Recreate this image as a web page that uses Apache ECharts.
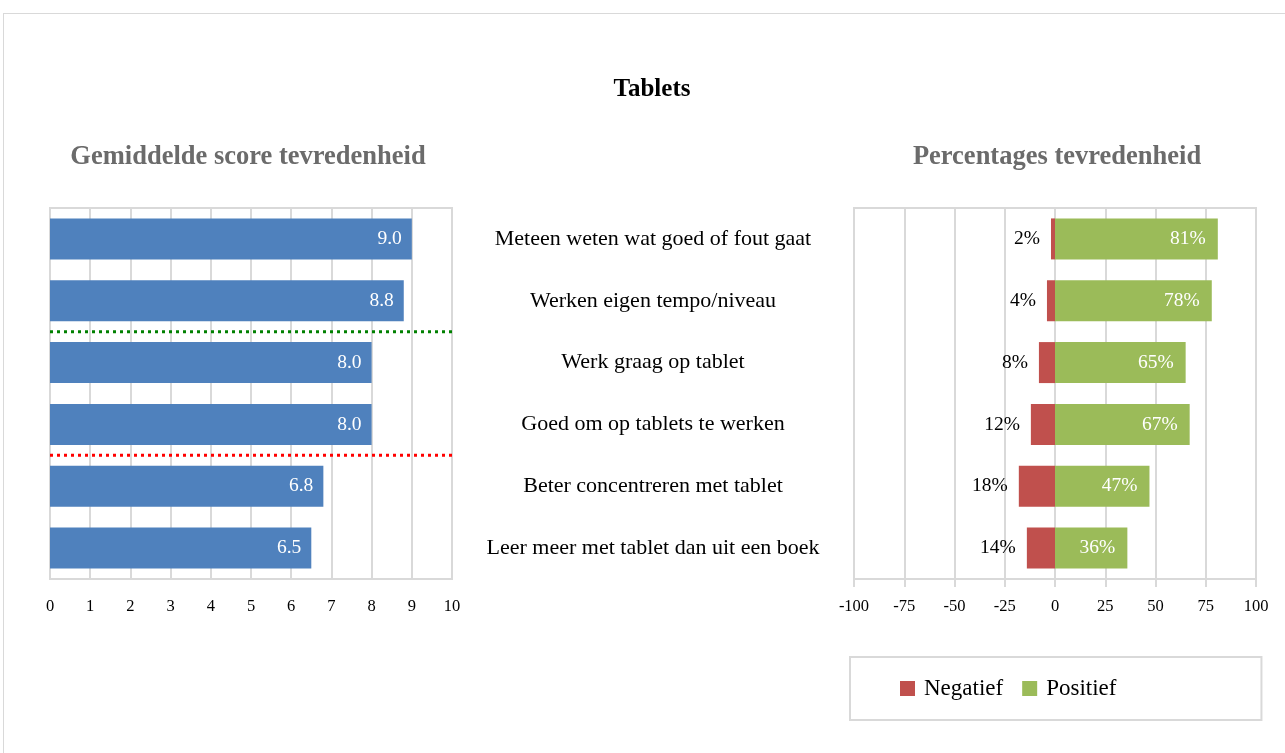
<!DOCTYPE html>
<html>
<head>
<meta charset="utf-8">
<script src="https://cdn.jsdelivr.net/npm/echarts@6/dist/echarts.min.js"></script>
<style>
  html, body { margin: 0; padding: 0; background: #fff; }
  #main { width: 1285px; height: 753px; }
  .frame { position: absolute; left: 3px; top: 13px; width: 1300px; height: 760px;
           border: 1px solid #d9d9d9; pointer-events: none; }
</style>
</head>
<body>
<div class="frame"></div>
<div id="main"></div>
<script>
// data
const categories = ['Meteen weten wat goed of fout gaat', 'Werken eigen tempo/niveau', 'Werk graag op tablet',
                    'Goed om op tablets te werken', 'Beter concentreren met tablet', 'Leer meer met tablet dan uit een boek'];
const scores = [9.0, 8.8, 8.0, 8.0, 6.8, 6.5];
const negatief = [2, 4, 8, 12, 18, 14];
const positief = [81, 78, 65, 67, 47, 36];
// dotted separator lines sit between categories (0 = top edge, 6 = bottom edge)
const greenLine = [2];
const redLine = [4];

const font = 'Liberation Serif';
const gridColor = '#d9d9d9';

let myChart = echarts.init(document.getElementById('main'));

let option = {
    animation: false,
    textStyle: { fontFamily: font },
    title: [
        { text: 'Tablets', left: 647, textAlign: 'center', top: 72,
          textStyle: { fontFamily: font, fontSize: 25, fontWeight: 'bold', color: '#000' } },
        { text: 'Gemiddelde score tevredenheid', left: 243, textAlign: 'center', top: 139,
          textStyle: { fontFamily: font, fontSize: 26.5, fontWeight: 'bold', color: '#6b6b6b' } },
        { text: 'Percentages tevredenheid', left: 1052, textAlign: 'center', top: 139,
          textStyle: { fontFamily: font, fontSize: 26.5, fontWeight: 'bold', color: '#6b6b6b' } }
    ],
    legend: {
        data: ['Negatief', 'Positief'],
        left: 850, top: 657,
        padding: [20, 145, 20, 50],
        borderColor: gridColor, borderWidth: 2,
        itemWidth: 15, itemHeight: 15, itemGap: 19,
        icon: 'rect',
        textStyle: { fontFamily: font, fontSize: 23, color: '#000', padding: [0, 0, 0, 4] }
    },
    grid: [
        { left: 50, top: 208, width: 402, height: 371, show: true, borderColor: gridColor, borderWidth: 2 },
        { left: 854, top: 208, width: 402, height: 371, show: true, borderColor: gridColor, borderWidth: 2 }
    ],
    xAxis: [
        { gridIndex: 0, type: 'value', min: 0, max: 10, interval: 1,
          axisLine: { show: true, lineStyle: { color: gridColor, width: 2 } },
          axisTick: { show: true, length: 8, lineStyle: { color: gridColor, width: 2 } },
          axisLabel: { margin: 19, fontFamily: font, fontSize: 16.5, color: '#000' },
          splitLine: { lineStyle: { color: gridColor, width: 2 } } },
        { gridIndex: 1, type: 'value', min: -100, max: 100, interval: 25,
          axisLine: { show: true, onZero: false, lineStyle: { color: gridColor, width: 2 } },
          axisTick: { show: true, length: 8, lineStyle: { color: gridColor, width: 2 } },
          axisLabel: { margin: 19, fontFamily: font, fontSize: 16.5, color: '#000' },
          splitLine: { lineStyle: { color: gridColor, width: 2 } } }
    ],
    yAxis: [
        { gridIndex: 0, type: 'category', data: categories, inverse: true,
          axisLine: { show: true, lineStyle: { color: gridColor, width: 2 } },
          axisTick: { show: false }, axisLabel: { show: false } },
        { gridIndex: 0, type: 'value', min: 0, max: 6, inverse: true, show: false },
        { gridIndex: 1, type: 'category', data: categories, inverse: true,
          axisLine: { show: true, onZero: false, lineStyle: { color: gridColor, width: 2 } },
          axisTick: { show: false },
          axisLabel: { align: 'center', margin: 201, fontFamily: font, fontSize: 22, color: '#000' } }
    ],
    series: [
        {
            name: 'Score', type: 'bar', xAxisIndex: 0, yAxisIndex: 0,
            data: scores, barWidth: 41,
            itemStyle: { color: '#4f81bd' },
            label: { show: true, position: 'insideRight', distance: 10, color: '#fff',
                     fontFamily: font, fontSize: 19.5, formatter: p => p.value.toFixed(1) }
        },
        {
            name: 'groen', type: 'line', xAxisIndex: 0, yAxisIndex: 1, symbol: 'none',
            data: [[0, greenLine[0]], [10, greenLine[0]]],
            lineStyle: { color: '#008000', width: 3, type: [3, 4] }
        },
        {
            name: 'rood', type: 'line', xAxisIndex: 0, yAxisIndex: 1, symbol: 'none',
            data: [[0, redLine[0]], [10, redLine[0]]],
            lineStyle: { color: '#ff0000', width: 3, type: [3, 4] }
        },
        {
            name: 'Negatief', type: 'bar', xAxisIndex: 1, yAxisIndex: 2, stack: 'total',
            data: negatief.map(v => -v), barWidth: 41,
            itemStyle: { color: '#c0504d' },
            label: { show: true, position: 'left', distance: 11, color: '#000',
                     fontFamily: font, fontSize: 19.5, formatter: p => Math.abs(p.value) + '%' }
        },
        {
            name: 'Positief', type: 'bar', xAxisIndex: 1, yAxisIndex: 2, stack: 'total',
            data: positief, barWidth: 41,
            itemStyle: { color: '#9bbb59' },
            label: { show: true, position: 'insideRight', distance: 12, color: '#fff',
                     fontFamily: font, fontSize: 19.5, formatter: p => p.value + '%' }
        }
    ]
};

myChart.setOption(option);
</script>
</body>
</html>
